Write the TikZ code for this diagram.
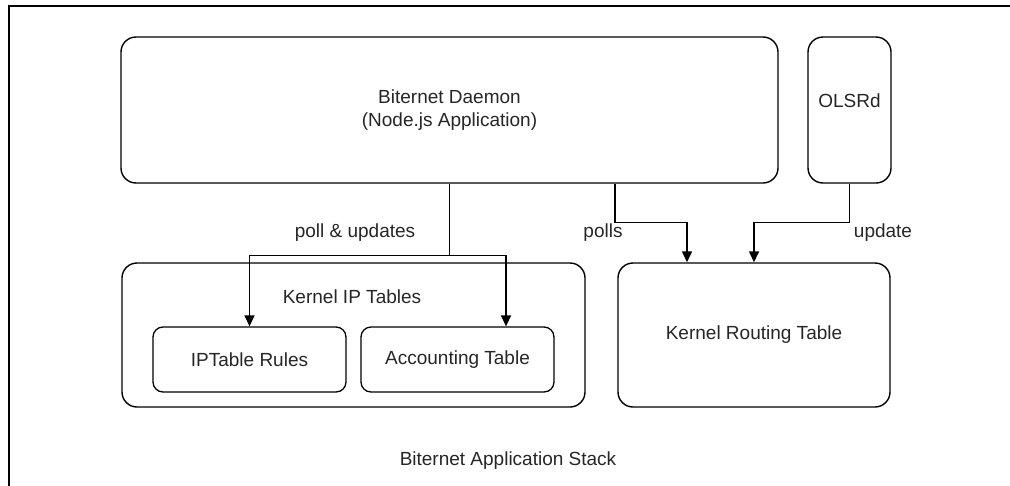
\documentclass[tikz,border=0pt]{standalone}
\usepackage{fontspec}
\setmainfont{Liberation Sans}
\usetikzlibrary{arrows.meta}
\begin{document}
\begin{tikzpicture}[x=1pt,y=-1pt,
  every node/.style={font=\fontsize{19}{23}\selectfont, text=black!85},
  box/.style={draw, line width=1.4pt, rounded corners=15pt, inner sep=0pt},
  sbox/.style={draw, line width=1.3pt, rounded corners=10pt, inner sep=0pt},
  lbl/.style={inner sep=0pt},
  conn/.style={line width=1.4pt},
  arr/.style={line width=1.4pt, -{Triangle[width=10pt,length=11pt]}}]
\useasboundingbox (0,0) rectangle (1010,485);
\clip (0,0) rectangle (1010,485);
\draw[line width=1.5pt] (9,495) -- (9,6) -- (1020,6);
\node[box, minimum width=657pt, minimum height=146pt, align=center] (daemon) at (449.5,110) {Biternet Daemon\\(Node.js Application)};
\node[box, minimum width=83pt, minimum height=146pt] (olsr) at (849.5,110) {};
\node[lbl] (olsrt) at (849.5,101) {OLSRd};
\node[box, minimum width=463pt, minimum height=144pt] (iptables) at (353.5,335) {};
\node[lbl] (iptt) at (352,297) {Kernel IP Tables};
\node[sbox, minimum width=193pt, minimum height=65pt] (rules) at (249.5,359.5) {IPTable Rules};
\node[sbox, minimum width=193pt, minimum height=65pt] (acct) at (457.5,359.5) {Accounting Table};
\node[box, minimum width=272pt, minimum height=144pt] (routing) at (754,335) {Kernel Routing Table};
\node[lbl] (stack) at (508,461) {Biternet Application Stack};
% connectors
\draw[conn] (daemon.south) -- ++(0,72) coordinate (split);
\draw[arr] (split) -| (rules.north);
\draw[arr] (split) -| ([xshift=48.5pt]acct.north);
\draw[arr] ([xshift=165.5pt]daemon.south) -- ++(0,39) -| ([xshift=-67pt]routing.north);
\draw[arr] (olsr.south) -- ++(0,39) -| (routing.north);
% labels
\node[lbl] (l1) at (355,233) {poll \& updates};
\node[lbl] (l2) at (603,233) {polls};
\node[lbl] (l3) at (883,233) {update};
\end{tikzpicture}
\end{document}
